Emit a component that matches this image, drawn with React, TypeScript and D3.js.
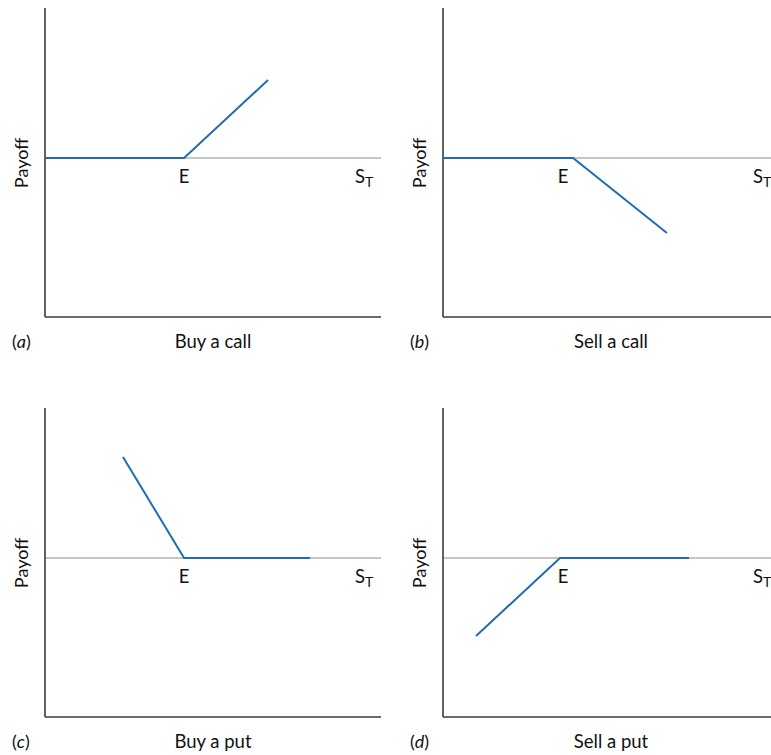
import React from "react";
import * as d3 from "d3";

const panelIds = ["a", "b", "c", "d"];
const captions = ["Buy a call", "Sell a call", "Buy a put", "Sell a put"];
const strikeLabelX = [9.27, 8.0, 9.27, 8.0];

const buyCallX = [0, 9.27, 14.87];
const buyCallY = [0, 0, 5.2];
const sellCallX = [0, 8.67, 14.93];
const sellCallY = [0, 0, -5.0];
const buyPutX = [5.2, 9.27, 17.67];
const buyPutY = [6.73, 0, 0];
const sellPutX = [2.2, 7.8, 16.4];
const sellPutY = [-5.2, 0, 0];

const seriesX = [buyCallX, sellCallX, buyPutX, sellPutX];
const seriesY = [buyCallY, sellCallY, buyPutY, sellPutY];

const W = 771;
const H = 755;
const panelW = 336;
const panelH = 309;
const origins = [
  [45, 8],
  [443, 8],
  [45, 408],
  [443, 408],
];

const FONT = "Lato, 'Open Sans', sans-serif";

export default function App() {
  const x = d3.scaleLinear().domain([0, 22.4]).range([0, panelW]);
  const y = d3.scaleLinear().domain([-10.6, 10]).range([panelH, 0]);
  const line = d3
    .line<[number, number]>()
    .x((d) => x(d[0]))
    .y((d) => y(d[1]));

  return (
    <svg
      width={W}
      height={H}
      style={{ position: "absolute", left: 0, top: 0, background: "#fff" }}
      fontFamily={FONT}
    >
      {panelIds.map((id, i) => {
        const [ox, oy] = origins[i];
        const pts: [number, number][] = seriesX[i].map((v, k) => [v, seriesY[i][k]]);
        const y0 = y(0);
        return (
          <g key={id} transform={`translate(${ox},${oy})`}>
            <line x1={0} x2={panelW} y1={y0} y2={y0} stroke="#b3b3b3" strokeWidth={1.3} />
            <line x1={0} x2={0} y1={0} y2={panelH} stroke="#3a3a3a" strokeWidth={1.6} />
            <line x1={0} x2={panelW} y1={panelH} y2={panelH} stroke="#3a3a3a" strokeWidth={1.6} />
            <path d={line(pts) || ""} fill="none" stroke="#1f6db3" strokeWidth={2} />
            <text
              x={x(strikeLabelX[i])}
              y={y0 + 25}
              textAnchor="middle"
              fontSize={18.5}
              fill="#111"
            >
              E
            </text>
            <text x={310} y={y0 + 25} fontSize={18.5} fill="#111">
              S
              <tspan fontSize={14} dy={4}>T</tspan>
            </text>
            <text
              transform={`translate(${-24},${155}) rotate(-90)`}
              textAnchor="middle"
              dominantBaseline="central"
              fontSize={18}
              fill="#111"
            >
              Payoff
            </text>
            <text x={-33} y={panelH + 31} fontSize={18} fill="#111">
              (<tspan fontStyle="italic">{id}</tspan>)
            </text>
            <text x={168} y={panelH + 31} textAnchor="middle" fontSize={18.5} fill="#111">
              {captions[i]}
            </text>
          </g>
        );
      })}
    </svg>
  );
}
